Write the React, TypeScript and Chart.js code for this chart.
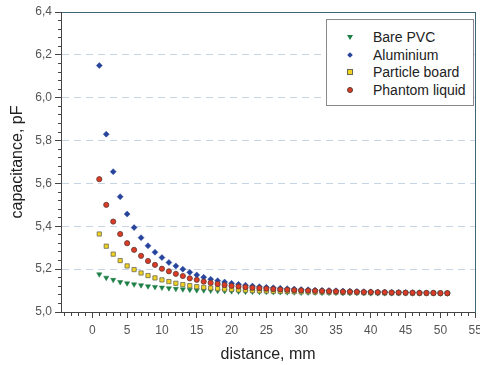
import React, { useEffect, useRef } from "react";
import { Chart, registerables } from "chart.js";

Chart.register(...registerables);

const distances = [
  1, 2, 3, 4, 5, 6, 7, 8, 9, 10, 11, 12, 13, 14, 15, 16, 17, 18, 19, 20, 21, 22, 23, 24, 25, 26,
  27, 28, 29, 30, 31, 32, 33, 34, 35, 36, 37, 38, 39, 40, 41, 42, 43, 44, 45, 46, 47, 48, 49, 50, 51,
];

const barePVC = [
  5.176, 5.16, 5.15, 5.14, 5.134, 5.129, 5.125, 5.12, 5.117, 5.114, 5.111, 5.108, 5.106, 5.104,
  5.102, 5.101, 5.1, 5.099, 5.098, 5.097, 5.096, 5.095, 5.095, 5.094, 5.094, 5.093, 5.093, 5.092,
  5.092, 5.091, 5.091, 5.091, 5.09, 5.09, 5.09, 5.089, 5.089, 5.089, 5.089, 5.088, 5.088, 5.088,
  5.088, 5.088, 5.088, 5.087, 5.087, 5.087, 5.087, 5.087, 5.087,
];

const aluminium = [
  6.15, 5.83, 5.655, 5.538, 5.457, 5.394, 5.347, 5.309, 5.279, 5.254, 5.231, 5.215, 5.2, 5.185,
  5.173, 5.162, 5.153, 5.146, 5.14, 5.134, 5.129, 5.125, 5.121, 5.118, 5.115, 5.113, 5.111, 5.109,
  5.107, 5.105, 5.104, 5.102, 5.101, 5.1, 5.099, 5.098, 5.097, 5.096, 5.095, 5.094, 5.093, 5.093,
  5.092, 5.091, 5.091, 5.09, 5.09, 5.089, 5.089, 5.088, 5.088,
];

const particleBoard = [
  5.364, 5.307, 5.27, 5.24, 5.215, 5.198, 5.182, 5.17, 5.159, 5.15, 5.142, 5.134, 5.128, 5.123,
  5.118, 5.115, 5.112, 5.109, 5.107, 5.105, 5.103, 5.102, 5.1, 5.099, 5.098, 5.097, 5.096, 5.096,
  5.095, 5.094, 5.094, 5.093, 5.093, 5.092, 5.092, 5.091, 5.091, 5.091, 5.09, 5.09, 5.09, 5.089,
  5.089, 5.089, 5.089, 5.088, 5.088, 5.088, 5.088, 5.088, 5.087,
];

const phantomLiquid = [
  5.62, 5.5, 5.422, 5.364, 5.321, 5.29, 5.262, 5.238, 5.22, 5.202, 5.19, 5.178, 5.168, 5.157,
  5.15, 5.142, 5.136, 5.131, 5.126, 5.122, 5.119, 5.116, 5.113, 5.111, 5.109, 5.107, 5.105, 5.104,
  5.102, 5.101, 5.1, 5.099, 5.098, 5.097, 5.096, 5.095, 5.095, 5.094, 5.093, 5.093, 5.092, 5.092,
  5.091, 5.091, 5.09, 5.09, 5.089, 5.089, 5.089, 5.088, 5.088,
];

const xLabelTicks = [0, 5, 10, 15, 20, 25, 30, 35, 40, 45, 50, 55];
const yLabelTicks = [5.0, 5.2, 5.4, 5.6, 5.8, 6.0, 6.2, 6.4];
const yGridLines = [5.2, 5.4, 5.6, 5.8, 6.0, 6.2];

const X_MIN = -4.5;
const X_MAX = 55;
const Y_MIN = 5.0;
const Y_MAX = 6.4;

const seriesNames = ["Bare PVC", "Aluminium", "Particle board", "Phantom liquid"];

const FONT = 'Arial, "Liberation Sans", sans-serif';
const AXIS_COLOR = "#444";
const FRAME_COLOR = "#3f6576";

const toPoints = (ys: number[]) => ys.map((y, i) => ({ x: distances[i], y }));
const near = (a: number, b: number) => Math.abs(a - b) < 1e-6;

export default function App() {
  const canvasRef = useRef<HTMLCanvasElement | null>(null);

  useEffect(() => {
    if (!canvasRef.current) return;
    const chart = new Chart(canvasRef.current, {
      type: "scatter",
      data: {
        datasets: [
          {
            label: seriesNames[3],
            data: toPoints(phantomLiquid),
            pointStyle: "circle",
            pointRadius: 2.6,
            backgroundColor: "#dd3b26",
            borderColor: "#5a3a32",
            borderWidth: 0.8,
          },
          {
            label: seriesNames[2],
            data: toPoints(particleBoard),
            pointStyle: "rect",
            pointRadius: 3,
            backgroundColor: "#f1d21e",
            borderColor: "#6a6a55",
            borderWidth: 0.8,
          },
          {
            label: seriesNames[1],
            data: toPoints(aluminium),
            pointStyle: "rectRot",
            pointRadius: 3,
            backgroundColor: "#27449c",
            borderColor: "#27449c",
            borderWidth: 0.5,
          },
          {
            label: seriesNames[0],
            data: toPoints(barePVC),
            pointStyle: "triangle",
            pointRotation: 180,
            pointRadius: 3,
            backgroundColor: "#1c7f45",
            borderColor: "#1c7f45",
            borderWidth: 0.5,
          },
        ],
      },
      options: {
        responsive: false,
        animation: false,
        devicePixelRatio: 1,
        layout: { padding: { top: 12, right: 4, left: 0, bottom: 0 } },
        plugins: { legend: { display: false }, tooltip: { enabled: false } },
        scales: {
          x: {
            type: "linear",
            position: "bottom",
            min: X_MIN,
            max: X_MAX,
            afterBuildTicks: (scale: any) => {
              const t: any[] = [];
              for (let v = Math.ceil(X_MIN); v <= X_MAX; v++) t.push({ value: v });
              scale.ticks = t;
            },
            afterFit: (scale: any) => {
              scale.height = 53;
              scale.paddingLeft = 0;
              scale.paddingRight = 0;
            },
            ticks: {
              autoSkip: false,
              maxRotation: 0,
              padding: 5,
              color: "#555",
              font: { family: FONT, size: 12 },
              callback: (value: any) => (xLabelTicks.includes(Number(value)) ? String(value) : ""),
            },
            grid: {
              drawOnChartArea: false,
              tickLength: 6,
              tickColor: AXIS_COLOR,
              tickBorderDash: (ctx: any) => {
                const v = ctx.tick ? ctx.tick.value : NaN;
                return xLabelTicks.includes(v) ? [] : [3, 20];
              },
            },
            border: { color: AXIS_COLOR, width: 1 },
            title: {
              display: true,
              text: "distance, mm",
              color: "#222",
              font: { family: FONT, size: 16 },
              padding: { top: 0, bottom: 1 },
            },
          },
          x2: {
            type: "linear",
            position: "top",
            min: X_MIN,
            max: X_MAX,
            afterBuildTicks: (scale: any) => {
              scale.ticks = [];
            },
            afterFit: (scale: any) => {
              scale.height = 0;
              scale.paddingLeft = 0;
              scale.paddingRight = 0;
            },
            ticks: { display: false },
            grid: { drawOnChartArea: false, drawTicks: false },
            border: { color: FRAME_COLOR, width: 1 },
          },
          y: {
            type: "linear",
            position: "left",
            min: Y_MIN,
            max: Y_MAX,
            afterBuildTicks: (scale: any) => {
              const t: any[] = [];
              const n = Math.round((Y_MAX - Y_MIN) / 0.04);
              for (let i = 0; i <= n; i++) t.push({ value: Math.round((Y_MIN + i * 0.04) * 100) / 100 });
              scale.ticks = t;
            },
            afterFit: (scale: any) => {
              scale.width = 61;
              scale.paddingTop = 0;
              scale.paddingBottom = 0;
            },
            ticks: {
              autoSkip: false,
              padding: 3,
              color: "#555",
              font: { family: FONT, size: 12 },
              callback: (value: any) => {
                const v = Number(value);
                return yLabelTicks.some((t) => near(t, v)) ? v.toFixed(1).replace(".", ",") : "";
              },
            },
            grid: {
              drawOnChartArea: true,
              color: (ctx: any) => {
                const v = ctx.tick ? ctx.tick.value : NaN;
                return yGridLines.some((g) => near(g, v)) ? "#c6d5e3" : "rgba(0,0,0,0)";
              },
              tickColor: AXIS_COLOR,
              tickLength: 6,
              tickBorderDash: (ctx: any) => {
                const v = ctx.tick ? ctx.tick.value : NaN;
                return yLabelTicks.some((t) => near(t, v)) ? [] : [0, 3, 3, 20];
              },
            },
            border: { color: AXIS_COLOR, width: 1, dash: [7, 5] },
            title: {
              display: true,
              text: "capacitance, pF",
              color: "#222",
              font: { family: FONT, size: 16 },
              padding: { top: 8, bottom: 0 },
            },
          },
          y2: {
            type: "linear",
            position: "right",
            min: Y_MIN,
            max: Y_MAX,
            afterBuildTicks: (scale: any) => {
              scale.ticks = [];
            },
            afterFit: (scale: any) => {
              scale.width = 0;
              scale.paddingTop = 0;
              scale.paddingBottom = 0;
            },
            ticks: { display: false },
            grid: { drawOnChartArea: false, drawTicks: false },
            border: { color: FRAME_COLOR, width: 1 },
          },
        },
      },
    } as any);
    return () => chart.destroy();
  }, []);

  const rowTop = [17, 34.5, 52, 69.5];
  const markers = [
    <div
      style={{
        width: 0,
        height: 0,
        borderLeft: "3px solid transparent",
        borderRight: "3px solid transparent",
        borderTop: "5px solid #1c7f45",
      }}
    />,
    <div style={{ width: 4, height: 4, background: "#27449c", transform: "rotate(45deg)" }} />,
    <div
      style={{
        width: 4,
        height: 4,
        background: "#f1d21e",
        border: "1px solid #6a6a55",
      }}
    />,
    <div
      style={{
        width: 4,
        height: 4,
        borderRadius: "50%",
        background: "#dd3b26",
        border: "1px solid #5a3a32",
      }}
    />,
  ];

  return (
    <div style={{ position: "absolute", left: 0, top: 0, width: 480, height: 365 }}>
      <canvas ref={canvasRef} width={480} height={365} style={{ display: "block" }} />
      <div
        style={{
          position: "absolute",
          left: 326,
          top: 19,
          width: 148,
          height: 87,
          border: "1px solid #8a8a8a",
          background: "#fff",
          boxSizing: "border-box",
          fontFamily: FONT,
          fontSize: 14,
          color: "#222",
        }}
      >
        {seriesNames.map((name, i) => (
          <div
            key={name}
            style={{
              position: "absolute",
              left: 0,
              top: rowTop[i] - 9,
              height: 18,
              width: "100%",
              display: "flex",
              alignItems: "center",
            }}
          >
            <div style={{ width: 46, display: "flex", justifyContent: "center" }}>{markers[i]}</div>
            <span style={{ lineHeight: "18px", whiteSpace: "nowrap" }}>{name}</span>
          </div>
        ))}
      </div>
    </div>
  );
}
